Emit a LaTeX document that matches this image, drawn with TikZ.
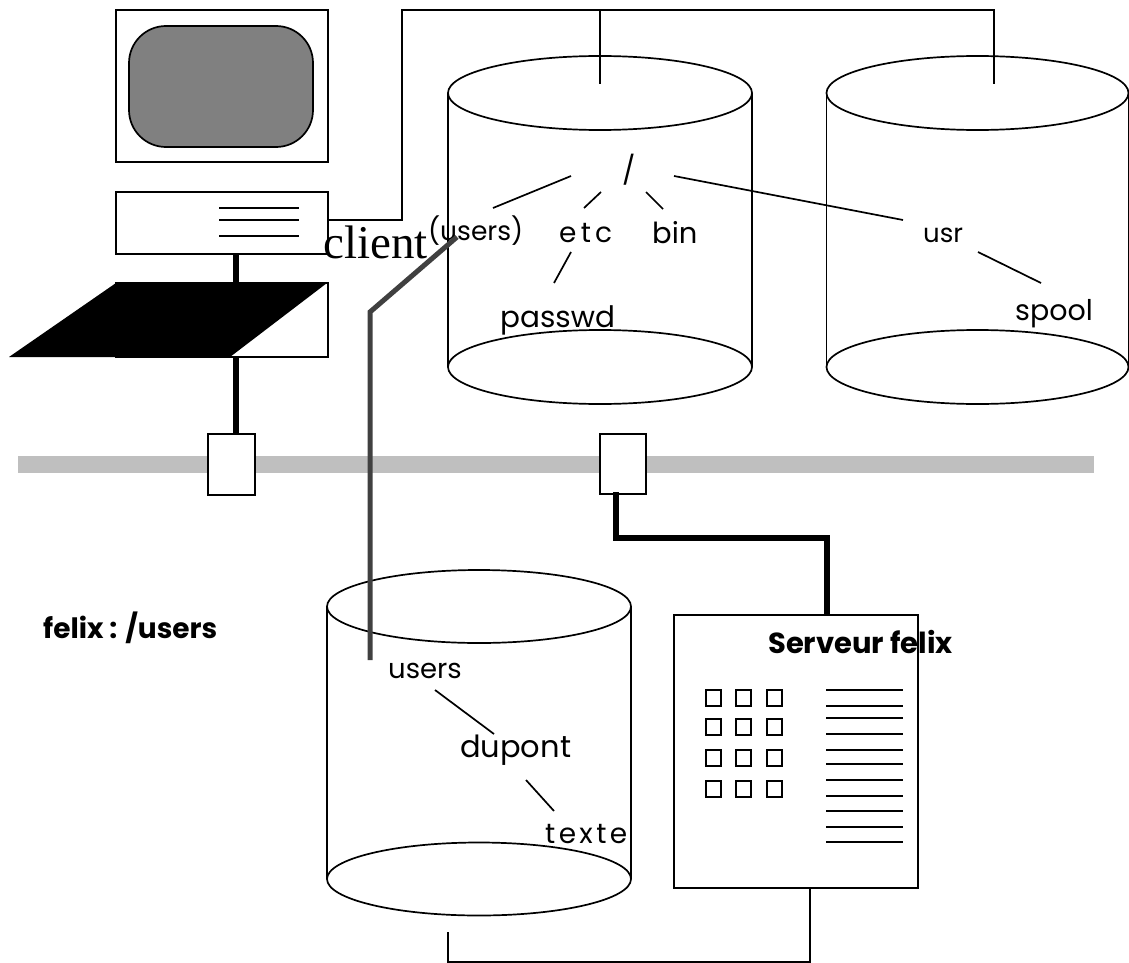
\documentclass[tikz,border=0pt]{standalone}
\usepackage{fontspec}
\newfontfamily\gothic{Poppins}
\newfontfamily\gothicbold{Poppins Bold}
\newfontfamily\clientfont{Liberation Serif}
\definecolor{screengray}{gray}{0.5}
\definecolor{busgray}{gray}{0.75}
\definecolor{linkgray}{gray}{0.25}
% a disk drawn as a cylinder: centre x, x radius, top y, bottom y, y radius
\newcommand\drawdisk[5]{%
  \draw[thin] (#1,#3) ellipse [x radius=#2, y radius=#5];
  \draw[thin] ({#1-#2},#3) -- ({#1-#2},#4) ({#1+#2},#3) -- ({#1+#2},#4);
  \draw[thin] (#1,#4) ellipse [x radius=#2, y radius=#5];
}
\begin{document}
\begin{tikzpicture}[x=1pt,y=-1pt,line join=miter,
  thin/.style={line width=1.7pt},
  fatblack/.style={line width=5.5pt},
  nfslink/.style={line width=5pt,draw=linkgray},
  boxed/.style={draw,line width=1.7pt,fill=white,inner sep=0pt},
  lbl/.style={inner sep=0pt,anchor=base west,font=\gothic\fontsize{#1}{#1}\selectfont},
  lbl/.default=28,
  boldlbl/.style={inner sep=0pt,anchor=base west,font=\gothicbold\fontsize{#1}{#1}\selectfont}]
\useasboundingbox (0,0) rectangle (1129,963);

% network bus
\fill[busgray] (18,456) rectangle (1094,473);

% disks
\drawdisk{600}{152}{93}{367}{37}
\drawdisk{977.5}{151}{93}{367}{37}
\drawdisk{479}{152}{606.5}{879}{36.5}

% workstation
\node[boxed,minimum width=212pt,minimum height=152pt] (monitor) at (222,86) {};
\node[draw,line width=1.7pt,fill=screengray,rounded corners=37pt,
      minimum width=184pt,minimum height=121pt,inner sep=0pt] (screen) at (221,86.5) {};
\node[boxed,minimum width=212pt,minimum height=62pt] (cpu) at (222,223) {};
\draw[thin] (219,208) -- (299,208) (219,220) -- (299,220) (219,236) -- (299,236);
\node[boxed,minimum width=212pt,minimum height=74pt] (keyboard) at (222,320) {};
\fill (9,357) -- (116,283) -- (327,283) -- (230,357) -- cycle;

% network cards
\node[boxed,minimum width=47pt,minimum height=61pt] (nicL) at (231.5,464.5) {};
\node[boxed,minimum width=46pt,minimum height=60pt] (nicR) at (623,464) {};

% server
\node[boxed,minimum width=244pt,minimum height=273pt] (server) at (796,751.5) {};
\foreach \cx in {706,736,767}
  \foreach \cy in {690,719,750,781}
    \draw[thin] (\cx,\cy) rectangle ++(15,16);
\foreach \ly in {690,706,718,734,750,764,780,796,811,827,842}
  \draw[thin] (826,\ly) -- (903,\ly);
\node[boldlbl=29] (srvname) at (768,653) {Serveur felix};

% cables
\coordinate (cpuport) at (328,220);
\coordinate (diskA) at (600,84);
\coordinate (diskB) at (994,84);
\draw[thin] (cpuport) -- (402,220) -- (402,10) -- (diskB |- 0,10) -- (diskB);
\draw[thin] (diskA |- 0,10) -- (diskA);
\coordinate (stemtop) at (236,254);
\coordinate (stemkb) at (236,283);
\coordinate (stemkbb) at (236,357);
\coordinate (stemnic) at (236,434);
\draw[fatblack] (stemtop) -- (stemkb);
\draw[fatblack] (stemkbb) -- (stemnic);
\coordinate (nicRout) at (616,492);
\draw[fatblack] (nicRout) -- (616,538) -- (827,538) -- (827,615);
\coordinate (diskC) at (448,932);
\coordinate (srvout) at (810,888);
\draw[thin] (diskC) -- (448,962) -- (810,962) -- (srvout);

% tree on the first disk
\node[lbl=28] (root) at (622,180) {/};
\node[lbl=26.5] (pusers) at (428,240) {(users)};
\node[lbl=28] (etc) at (559,242) {\addfontfeature{LetterSpace=15}etc};
\node[lbl=29] (bin) at (652,243) {bin};
\node[lbl=29.5] (passwd) at (500,327) {passwd};
\coordinate (r1a) at (571,176); \coordinate (r1b) at (493,208);
\coordinate (r2a) at (601,192); \coordinate (r2b) at (584,208);
\coordinate (r3a) at (646,192); \coordinate (r3b) at (663,209);
\coordinate (r4a) at (674,176); \coordinate (r4b) at (903,220);
\coordinate (e1a) at (571,252); \coordinate (e1b) at (554,283);
\draw[thin] (r1a) -- (r1b) (r2a) -- (r2b) (r3a) -- (r3b) (r4a) -- (r4b) (e1a) -- (e1b);

% tree on the second disk
\node[lbl=26] (usr) at (923,242) {usr};
\node[lbl=28.5] (spool) at (1015,320) {spool};
\coordinate (u1a) at (978,252); \coordinate (u1b) at (1041,283);
\draw[thin] (u1a) -- (u1b);

% tree on the server disk
\node[lbl=27.5] (users) at (388,678) {users};
\node[lbl=30.5] (dupont) at (460,757) {dupont};
\node[lbl=28] (texte) at (545,843) {\addfontfeature{LetterSpace=12}texte};
\coordinate (d1a) at (435,690); \coordinate (d1b) at (494,734);
\coordinate (d2a) at (526,780); \coordinate (d2b) at (554,811);
\draw[thin] (d1a) -- (d1b) (d2a) -- (d2b);

% mount link
\node[inner sep=0pt,anchor=base west,font=\clientfont\fontsize{47}{47}\selectfont] (client) at (323,258) {client};
\coordinate (mnttop) at (457,237);
\coordinate (mntbend) at (370,312);
\coordinate (mntend) at (370,660);
\draw[nfslink] (mnttop) -- (mntbend) -- (mntend);

\node[boldlbl=28] (mountlbl) at (43,638) {felix : /users};
\end{tikzpicture}
\end{document}
